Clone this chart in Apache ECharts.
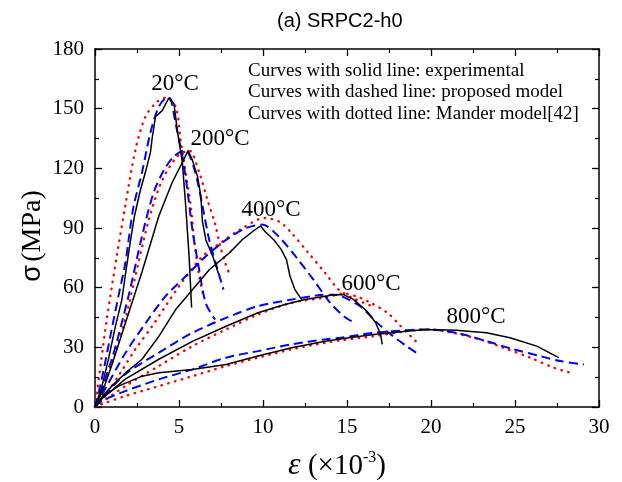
<!DOCTYPE html>
<html>
<head>
<meta charset="utf-8">
<script src="https://cdn.jsdelivr.net/npm/echarts@6/dist/echarts.min.js"></script>
<style>
  html, body { margin: 0; padding: 0; background: #fff; }
  #chart { width: 622px; height: 482px; }
</style>
</head>
<body>
<div id="chart"></div>
<script>
// Stress–strain curves of SRPC2-h0 after exposure to 20–800 °C.
// Each point is [strain (×10^-3), stress (MPa)].

// Experimental curves (solid black)
const exp20 = [[0,0],[0.4,10],[0.8,24],[1.2,40],[1.6,54],[1.8,66],[2.1,83],[2.35,96],[2.7,109],[3.0,118],[3.3,128],[3.4,135],[3.6,146],[4.0,149],[4.4,155.5],[4.7,152.5],[4.9,139],[5.2,123],[5.4,101],[5.6,76],[5.75,50]];
const exp200 = [[0,0],[0.5,9],[1.0,21],[1.8,42],[2.8,68],[3.8,96],[4.6,113],[5.2,123],[5.55,129],[5.8,124],[6.1,116],[6.3,106],[6.4,93],[6.6,84],[7.0,76],[7.35,67]];
const exp400 = [[0,0],[0.5,6],[1.0,10.5],[1.8,17],[2.8,24],[3.8,35.5],[4.8,49],[5.8,59],[6.8,69],[8.0,77.5],[8.75,84],[9.35,88],[9.85,91],[10.15,88],[10.65,84],[11.1,79],[11.4,74],[11.6,66],[11.9,59],[12.3,54]];
const exp600 = [[0,0],[0.4,4],[1.8,14],[3.8,24],[5.8,33],[7.8,40.6],[9.7,47.4],[11.3,51.5],[12.5,54],[13.7,55.7],[14.3,56.5],[14.8,56.5],[15.4,54],[16.2,48],[16.7,42.5],[17.0,36.5],[17.1,31.5]];
const exp800 = [[0,0],[0.4,4.7],[1.4,10.5],[2.8,15.5],[3.8,17.2],[5.8,18.9],[7.8,21.4],[9.7,25.6],[11.7,29.8],[13.7,33.1],[15.1,34.8],[16.6,36.5],[18.55,38.1],[19.7,39],[21.5,38.6],[23.3,37.3],[24.7,34.8],[26.3,30.6],[27.6,24.8]];

// Proposed model (dashed blue)
const prop20 = [[0,0],[0.4,14],[0.9,35],[1.4,56],[1.8,72],[2.0,84],[2.3,101],[2.8,118],[3.3,138],[3.8,151],[4.3,155.5],[4.5,155],[4.8,142.5],[5.2,126],[5.5,109],[5.8,89],[6.2,69],[6.6,52],[7.15,44]];
const prop200 = [[0,0],[1,24],[2,56],[2.8,86],[3.5,108],[4.1,119],[4.7,126],[5.35,129],[5.6,127],[6.0,117],[6.4,101],[6.8,84],[7.3,69],[7.65,59]];
const prop400 = [[0,0],[0.6,9],[1.8,27],[3.0,42],[4.2,55.7],[5.4,65.7],[6.6,75.8],[7.8,84],[9.0,90],[9.95,91.7],[10.9,86],[12.1,74],[13.0,64],[14.0,52.4],[14.8,45.7],[15.3,43]];
const prop600 = [[0,0],[0.5,5],[1.8,16.5],[3.8,27.3],[5.8,37.3],[7.8,44.8],[9.7,50.7],[11.7,54],[13.3,56.2],[14.2,56.5],[14.6,56],[15.8,50.5],[16.8,42.3],[17.6,36.5],[18.55,30.6],[19.35,26]];
const prop800 = [[0,0],[0.4,3],[1.8,8],[3.8,13.9],[5.8,18.9],[7.8,24.8],[9.7,28.1],[11.7,31.5],[13.7,34],[14.6,34.8],[16.6,37.3],[18.55,38.6],[19.7,39],[21.5,37.3],[23.3,33.1],[24.9,29],[26.5,25.6],[27.7,23.1],[29.1,21.4]];

// Mander model [42] (dotted red)
const mander20 = [[0,0],[0.35,22],[0.7,44],[1.3,76],[1.8,101],[2.4,129],[3.0,146],[3.7,153.5],[4.2,155.5],[4.8,151],[5.1,134],[5.4,117.6],[5.7,101],[5.9,84],[6.2,66],[6.45,56]];
const mander200 = [[0,0],[1.0,22],[1.8,44],[2.3,62],[3.2,94],[4.0,114],[4.9,126],[5.6,129],[6.2,118],[6.7,104],[7.15,92],[7.45,81],[7.75,72.5],[7.95,68]];
const mander400 = [[0,0],[0.6,5.5],[1.5,17],[2.4,29],[3.4,40.6],[5.0,60.7],[6.4,75.8],[7.6,83.3],[8.6,89],[10.1,95],[11.0,93],[11.7,87.5],[12.7,77.5],[13.7,67.4],[14.5,59],[15.3,55],[16.4,51]];
const mander600 = [[0,0],[1.8,10.5],[3.8,20.6],[5.8,30.6],[7.8,39],[9.7,46.5],[11.7,52.4],[13.7,55],[14.8,57],[15.6,55.5],[16.4,52.4],[17.4,47.4],[18.2,40.6],[19.1,33]];
const mander800 = [[0,0],[0.4,1.4],[1.8,5.5],[3.8,10.5],[5.8,15.5],[7.8,20.6],[9.7,24.8],[11.7,29],[13.7,32.3],[14.6,33.5],[16.6,35.6],[18.55,38.1],[19.9,39],[21.3,37.3],[22.9,34],[24.3,29.8],[25.9,24.8],[27.3,19.8],[28.3,17.2]];

// Temperature tags placed in data space
const tempText = ['20°C', '200°C', '400°C', '600°C', '800°C'];
const tempX = [4.76, 7.44, 10.48, 16.43, 22.68];
const tempY = [162.4, 134.8, 99.1, 62.1, 45.5];

// Axis ticks
const xTicks = [0, 5, 10, 15, 20, 25, 30];
const yTicks = [0, 30, 60, 90, 120, 150, 180];

const SERIF = '"Liberation Serif", "Times New Roman", serif';
const SANS = '"Liberation Sans", Arial, sans-serif';

const chart = echarts.init(document.getElementById('chart'), null, { renderer: 'canvas' });

function axisCommon(showLabels) {
  return {
    axisLine: { show: true, onZero: false, lineStyle: { color: '#000', width: 1.5 } },
    axisTick: { show: true, inside: true, length: 7, lineStyle: { color: '#000', width: 1.3 } },
    minorTick: { show: true, splitNumber: 2, length: 4, lineStyle: { color: '#000', width: 1.2 } },
    splitLine: { show: false },
    axisLabel: { show: showLabels, color: '#000', fontFamily: SERIF, fontSize: 21 }
  };
}

const lineCurve = (data, kind) => {
  const styles = {
    exp:    { color: '#000000', width: 1.5, type: 'solid' },
    prop:   { color: '#0000ff', width: 2, type: [9, 5] },
    mander: { color: '#ff0000', width: 2.4, type: [0.5, 6.5], cap: 'round' }
  };
  return {
    type: 'line',
    data: data,
    symbol: 'none',
    smooth: kind === 'exp' ? false : 0.3,
    lineStyle: styles[kind],
    z: kind === 'exp' ? 4 : (kind === 'prop' ? 3 : 2),
    silent: true,
    animation: false
  };
};

const option = {
  animation: false,
  backgroundColor: '#fff',
  title: {
    text: '(a) SRPC2-h0',
    left: 272,
    top: 6,
    textStyle: { fontFamily: SANS, fontSize: 20, fontWeight: 'normal', color: '#000' }
  },
  grid: { left: 95, right: 23, top: 49, bottom: 75 },
  xAxis: [
    Object.assign({ type: 'value', min: xTicks[0], max: xTicks[xTicks.length - 1], interval: xTicks[1] - xTicks[0], position: 'bottom' }, axisCommon(true),
      { axisLabel: { show: true, color: '#000', fontFamily: SERIF, fontSize: 21, margin: 10 } }),
    Object.assign({ type: 'value', min: xTicks[0], max: xTicks[xTicks.length - 1], interval: xTicks[1] - xTicks[0], position: 'top' }, axisCommon(false))
  ],
  yAxis: [
    Object.assign({ type: 'value', min: yTicks[0], max: yTicks[yTicks.length - 1], interval: yTicks[1] - yTicks[0], position: 'left' }, axisCommon(true),
      { axisLabel: { show: true, color: '#000', fontFamily: SERIF, fontSize: 21, margin: 11 } }),
    Object.assign({ type: 'value', min: yTicks[0], max: yTicks[yTicks.length - 1], interval: yTicks[1] - yTicks[0], position: 'right' }, axisCommon(false))
  ],
  graphic: [
    {
      type: 'text',
      left: 248,
      top: 60,
      style: {
        text: 'Curves with solid line: experimental\nCurves with dashed line: proposed model\nCurves with dotted line: Mander model[42]',
        font: '19px ' + SERIF,
        lineHeight: 21.5,
        fill: '#000'
      }
    },
    {
      type: 'text',
      x: 33,
      y: 236,
      rotation: Math.PI / 2,
      style: {
        text: '{g|σ} {t|(MPa)}',
        align: 'center',
        verticalAlign: 'middle',
        fill: '#000',
        rich: {
          g: { fontFamily: SANS, fontSize: 27, fill: '#000' },
          t: { fontFamily: SERIF, fontSize: 28, fill: '#000' }
        }
      }
    },
    {
      type: 'text',
      x: 337,
      y: 466,
      style: {
        text: '{e|ε}{n| (×10}{s|-3}{n|)}',
        align: 'center',
        verticalAlign: 'middle',
        fill: '#000',
        rich: {
          e: { fontFamily: SERIF, fontStyle: 'italic', fontSize: 32, fill: '#000' },
          n: { fontFamily: SERIF, fontSize: 29, fill: '#000' },
          s: { fontFamily: SERIF, fontSize: 16, fill: '#000', verticalAlign: 'top', padding: [0, 0, 13, 0] }
        }
      }
    }
  ],
  series: [
    lineCurve(mander20, 'mander'), lineCurve(mander200, 'mander'), lineCurve(mander400, 'mander'),
    lineCurve(mander600, 'mander'), lineCurve(mander800, 'mander'),
    lineCurve(prop20, 'prop'), lineCurve(prop200, 'prop'), lineCurve(prop400, 'prop'),
    lineCurve(prop600, 'prop'), lineCurve(prop800, 'prop'),
    lineCurve(exp20, 'exp'), lineCurve(exp200, 'exp'), lineCurve(exp400, 'exp'),
    lineCurve(exp600, 'exp'), lineCurve(exp800, 'exp'),
    {
      type: 'scatter',
      symbolSize: 0,
      silent: true,
      z: 6,
      itemStyle: { opacity: 1 },
      data: tempText.map((t, i) => ({ value: [tempX[i], tempY[i]], name: t })),
      label: {
        show: true,
        position: 'inside',
        formatter: p => p.name,
        fontFamily: SERIF,
        fontSize: 23,
        color: '#000',
        opacity: 1
      }
    }
  ]
};

chart.setOption(option);
</script>
</body>
</html>
